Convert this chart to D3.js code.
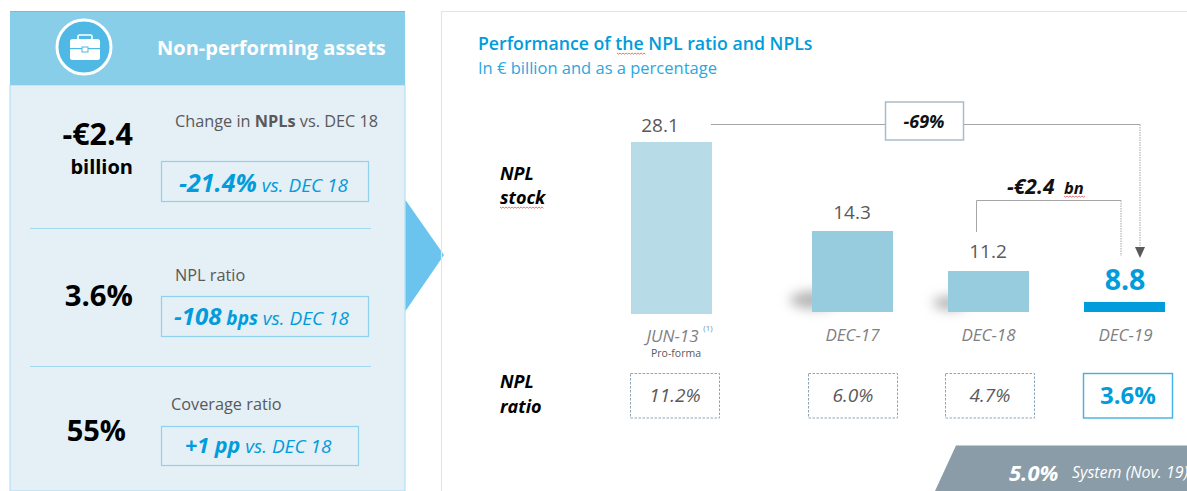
<!DOCTYPE HTML>
<html lang="en">
<head>
<meta charset="utf-8" />
<title>Non-performing assets</title>
<style>
  html, body { margin: 0; padding: 0; background: #fff; overflow: hidden; }
  svg { display: block; }
  text { font-family: "Open Sans", sans-serif; }
</style>
</head>
<body>
<div id="chart"></div>
<script src="https://cdn.jsdelivr.net/npm/d3@7"></script>
<script>
const periods = ["JUN-13", "DEC-17", "DEC-18", "DEC-19"];
const nplStock = [28.1, 14.3, 11.2, 8.8];
const nplRatio = [11.2, 6.0, 4.7, 3.6];

const kpiValues = ["-€2.4", "3.6%", "55%"];
const kpiNames = ["Change in ", "NPL ratio", "Coverage ratio"];
const kpiChanges = ["-21.4%", "-108", "+1 pp"];

const blue = "#009cdb";
const grey = "#595959";

const width = 1187, height = 491;
const svg = d3.select("#chart").append("svg")
    .attr("width", width)
    .attr("height", height);
const defs = svg.append("defs");
defs.append("filter").attr("id", "soft")
    .attr("x", "-100%").attr("y", "-150%").attr("width", "300%").attr("height", "400%")
    .append("feGaussianBlur").attr("stdDeviation", 6);

function label(x, y, str, size, opts = {}) {
    return svg.append("text")
        .attr("x", x).attr("y", y)
        .attr("font-size", size)
        .attr("font-weight", opts.weight || 400)
        .attr("font-style", opts.italic ? "italic" : "normal")
        .attr("fill", opts.fill || grey)
        .attr("text-anchor", opts.anchor || "start")
        .text(str);
}

// red spell-check underline from the slide screenshot
function squiggle(x0, x1, y) {
    const pts = d3.range(x0, x1 + 0.1, 1.5).map((x, i) => [x, y + (i % 2 ? 1.2 : 0)]);
    svg.append("path").attr("d", d3.line()(pts))
        .attr("fill", "none").attr("stroke", "#e4534f").attr("stroke-width", 0.8);
}

// ---- left panel
svg.append("rect").attr("x", 10).attr("y", 85).attr("width", 395).attr("height", 406)
    .attr("fill", "#e4eff6").attr("stroke", "#a9dcf1");
svg.append("rect").attr("x", 10).attr("y", 11).attr("width", 395).attr("height", 74)
    .attr("fill", "#89cee9");
svg.append("line").attr("x1", 10).attr("x2", 405).attr("y1", 11.5).attr("y2", 11.5)
    .attr("stroke", "#6fbfe2");

svg.append("circle").attr("cx", 84).attr("cy", 47).attr("r", 27)
    .attr("fill", "#4fb8e4").attr("stroke", "#fff").attr("stroke-width", 3);
const icon = svg.append("g").attr("fill", "#fff");
icon.append("rect").attr("x", 70).attr("y", 39).attr("width", 30).attr("height", 21).attr("rx", 2.5);
icon.append("rect").attr("x", 78).attr("y", 35).attr("width", 14).attr("height", 5).attr("rx", 1.5)
    .attr("fill", "none").attr("stroke", "#fff").attr("stroke-width", 1.6);
icon.append("rect").attr("x", 70).attr("y", 48).attr("width", 30).attr("height", 1.2).attr("fill", "#4fb8e4");
icon.append("rect").attr("x", 82).attr("y", 47).attr("width", 6).attr("height", 5)
    .attr("stroke", "#4fb8e4").attr("stroke-width", 1);

label(157, 55, "Non-performing assets", 20, { weight: 700, fill: "#fff" });

[228.5, 366.5].forEach(y => {
    svg.append("line").attr("x1", 30).attr("x2", 371).attr("y1", y).attr("y2", y)
        .attr("stroke", "#a3d9f0");
});

// KPI rows
label(133, 145, kpiValues[0], 30.4, { weight: 700, fill: "#000", anchor: "end" });
label(133, 174, "billion", 20, { weight: 700, fill: "#000", anchor: "end" });
label(133, 306, kpiValues[1], 29.3, { weight: 700, fill: "#000", anchor: "end" });
label(126, 441, kpiValues[2], 29, { weight: 700, fill: "#000", anchor: "end" });

const n0 = label(175, 127, kpiNames[0], 16.3);
n0.append("tspan").attr("font-weight", 700).text("NPLs");
n0.append("tspan").text(" vs. DEC 18");
label(175, 281, kpiNames[1], 16.3);
label(171, 410, kpiNames[2], 16.3);

[[161, 161, 207, 40], [161, 296, 207, 40], [161, 426, 197, 39]].forEach(b => {
    svg.append("rect").attr("x", b[0] + 0.5).attr("y", b[1] + 0.5).attr("width", b[2]).attr("height", b[3])
        .attr("fill", "none").attr("stroke", "#8fd2ee").attr("stroke-width", 1.2);
});

function changeLabel(x, y, big, bigSize, unit, tail) {
    const t = label(x, y, big, bigSize, { weight: 700, italic: true, fill: blue });
    if (unit) t.append("tspan").attr("font-size", 19).text(" " + unit);
    t.append("tspan").attr("font-size", 19).attr("font-weight", 400).text(" " + tail);
}
changeLabel(179, 192, kpiChanges[0], 25, "", "vs. DEC 18");
changeLabel(174, 325, kpiChanges[1], 24, "bps", "vs. DEC 18");
changeLabel(185, 453, kpiChanges[2], 21.5, "", "vs. DEC 18");

// arrow between the panels
svg.append("path").attr("d", "M405.5,200L444,255L405.5,311Z").attr("fill", "#6bc4ee");

// ---- right panel
svg.append("path").attr("d", "M441.5,491V11.5H1187")
    .attr("fill", "none").attr("stroke", "#e4e4e4").attr("stroke-width", 1.2);

label(478, 50, "Performance of the NPL ratio and NPLs", 17.7, { weight: 600, fill: blue });
squiggle(617, 646, 53);
label(478, 74, "In € billion and as a percentage", 16.5, { fill: "#2aa7e0" });

// the bar heights in the slide use a cut scale: linear up to 14.3, compressed above it
const y = d3.scaleLinear().domain([8.02, 14.3, 28.1]).range([312, 231, 142]);
const xBar = d3.scaleOrdinal().domain(periods).range([631, 812, 948, 1084]);
const xValue = d3.scaleOrdinal().domain(periods).range([660, 852, 988, 1125]);
const xTick = d3.scaleOrdinal().domain(periods).range([672, 852, 988, 1125]);
const xRatio = d3.scaleOrdinal().domain(periods).range([630, 808, 945, 1083]);
const barWidth = 81;
const barFill = ["#b7dce8", "#96ccde", "#96ccde", blue];

// soft shadows next to the two middle bars, the bars cover their right half
svg.append("g").selectAll("ellipse").data([[814, 300, 24, 9], [950, 303, 17, 7]]).join("ellipse")
    .attr("cx", d => d[0]).attr("cy", d => d[1]).attr("rx", d => d[2]).attr("ry", d => d[3])
    .attr("fill", "#b5b5b5").attr("filter", "url(#soft)");

svg.append("g").selectAll("rect").data(periods).join("rect")
    .attr("x", d => xBar(d))
    .attr("y", (d, i) => y(nplStock[i]))
    .attr("width", barWidth)
    .attr("height", (d, i) => (i === 0 ? 314 : 312) - y(nplStock[i]))
    .attr("fill", (d, i) => barFill[i]);

svg.append("g").selectAll("text").data(periods).join("text")
    .attr("x", d => xValue(d))
    .attr("y", (d, i) => [132, 219, 258, 290][i])
    .attr("text-anchor", "middle")
    .attr("font-size", (d, i) => i === 3 ? 28.5 : 19)
    .attr("font-weight", (d, i) => i === 3 ? 700 : 400)
    .attr("fill", (d, i) => i === 3 ? blue : grey)
    .text((d, i) => nplStock[i].toFixed(1));

// period labels
const axis = svg.append("g").attr("transform", "translate(0,323)")
    .call(d3.axisBottom(xTick).tickSize(0).tickPadding(2));
axis.select(".domain").remove();
axis.selectAll("text")
    .attr("font-size", 17)
    .attr("font-style", "italic")
    .attr("fill", "#7f7f7f")
    .attr("font-family", "Open Sans")
    .attr("dy", (d, i) => i === 0 ? 17 : 16);

label(676, 357, "Pro-forma", 10.5, { anchor: "middle" });
label(708, 331, "(1)", 8, { anchor: "middle", fill: "#6f93ae" });

label(500, 180, "NPL", 18, { weight: 700, italic: true, fill: "#000" });
label(500, 204, "stock", 18, { weight: 700, italic: true, fill: "#000" });
squiggle(500, 544, 207);
label(500, 388, "NPL", 18, { weight: 700, italic: true, fill: "#000" });
label(500, 413, "ratio", 18, { weight: 700, italic: true, fill: "#000" });

// ratio boxes
svg.append("g").selectAll("rect").data(periods).join("rect")
    .attr("x", d => xRatio(d) + 0.5)
    .attr("y", 373.5)
    .attr("width", 89)
    .attr("height", 44.5)
    .attr("fill", "#fff")
    .attr("stroke", (d, i) => i === 3 ? "#3fb1e3" : "#8fa5b5")
    .attr("stroke-width", (d, i) => i === 3 ? 1.4 : 1)
    .attr("stroke-dasharray", (d, i) => i === 3 ? null : "2.5 1.5");

svg.append("g").selectAll("text").data(periods).join("text")
    .attr("x", d => xRatio(d) + 45)
    .attr("y", (d, i) => i === 3 ? 404 : 402)
    .attr("text-anchor", "middle")
    .attr("font-size", (d, i) => i === 3 ? 24 : 19)
    .attr("font-weight", (d, i) => i === 3 ? 700 : 400)
    .attr("font-style", (d, i) => i === 3 ? "normal" : "italic")
    .attr("fill", (d, i) => i === 3 ? blue : grey)
    .text((d, i) => nplRatio[i].toFixed(1) + "%");

// -69% connector
svg.append("path").attr("d", "M711,124.5H1140")
    .attr("fill", "none").attr("stroke", "#a6a6a6");
svg.append("path").attr("d", "M1140,124.5V247")
    .attr("fill", "none").attr("stroke", "#a6a6a6").attr("stroke-dasharray", "1.5 1");
svg.append("path").attr("d", "M1135,247H1145L1140,258Z").attr("fill", "#595959");
svg.append("rect").attr("x", 885.5).attr("y", 102).attr("width", 78).attr("height", 38)
    .attr("fill", "#fff").attr("stroke", "#a9bccb").attr("stroke-width", 1.5);
label(924, 128, "-69%", 18, { weight: 700, italic: true, fill: "#111", anchor: "middle" });

// -2.4 bn connector
svg.append("path").attr("d", "M976.5,232V200.5H1121")
    .attr("fill", "none").attr("stroke", "#a6a6a6");
svg.append("path").attr("d", "M1121,200.5V256")
    .attr("fill", "none").attr("stroke", "#a6a6a6").attr("stroke-dasharray", "1.5 1");
label(1007, 194, "-€2.4", 21, { weight: 700, italic: true, fill: "#111" });
label(1064, 194, "bn", 16.5, { weight: 700, italic: true, fill: "#111" });
squiggle(1064, 1086, 196);

// system band at the bottom
svg.append("path").attr("d", "M956,445.5H1187V491H935Z").attr("fill", "#8a9ca7");
label(1009, 481, "5.0%", 22, { weight: 700, italic: true, fill: "#fff" });
label(1072, 478, "System (Nov. 19)", 16, { italic: true, fill: "#fff" });
</script>
</body>
</html>
